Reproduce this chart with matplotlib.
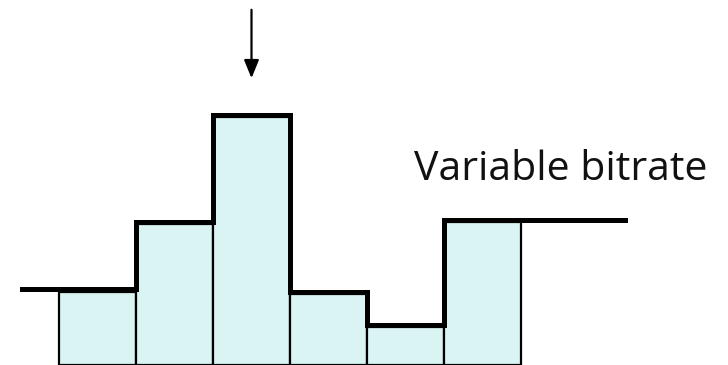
import matplotlib
matplotlib.use("Agg")
import matplotlib.pyplot as plt

# frame sizes (bar heights) and the bitrate step curve above them
frames = [0, 1, 2, 3, 4, 5]
frame_size = [73, 141, 248, 71, 38, 143]
rate_x = [-0.48, 1, 1, 2, 2, 3, 3, 4, 4, 5, 5, 7.35]
rate_y = [76, 76, 143, 143, 250, 250, 73, 73, 40, 40, 145, 145]
label = "Variable bitrate"

fig = plt.figure(figsize=(7.28, 3.65), dpi=100)
ax = fig.add_axes([0, 0, 1, 1])
ax.set_xlim(-59 / 77, 669 / 77)
ax.set_ylim(0, 365)
ax.axis("off")

ax.bar(frames, frame_size, width=1, align="edge", color="#daf4f4",
       edgecolor="black", linewidth=1.6, zorder=1)
ax.plot(rate_x, rate_y, color="black", linewidth=3.6, zorder=2,
        solid_joinstyle="miter")

ax.annotate("", xy=(2.5, 284), xytext=(2.5, 358),
            arrowprops=dict(arrowstyle="-|>,head_length=1.1,head_width=0.45",
                            color="black", lw=1.6))
ax.text(4.61, 185, label, fontsize=29.5, family="Open Sans", color="#111111",
        va="baseline", ha="left")

plt.savefig("out.png", dpi=100)
